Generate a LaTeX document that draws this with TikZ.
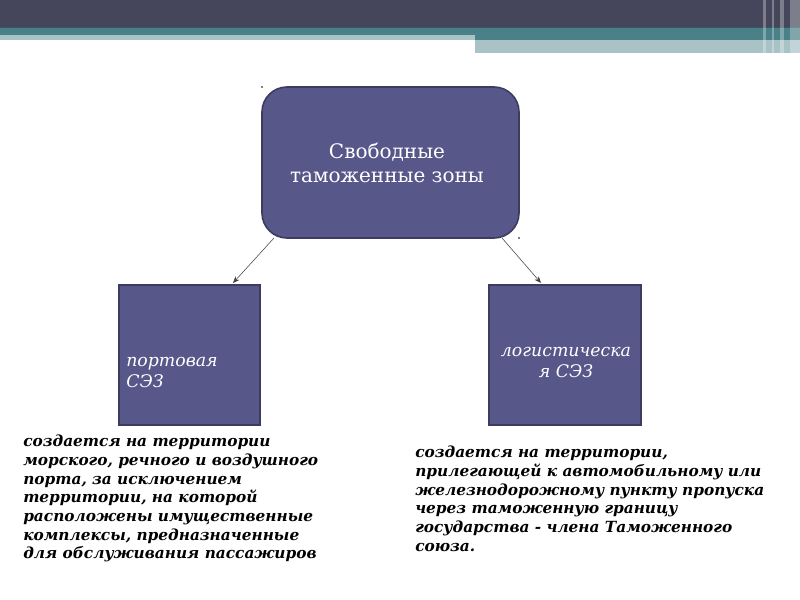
\documentclass[tikz,border=0pt]{standalone}
\usepackage{fontspec}
\setmainfont{DejaVu Serif}
\usetikzlibrary{positioning,arrows.meta}
\definecolor{bardark}{HTML}{45455B}
\definecolor{barteal}{HTML}{4A8088}
\definecolor{barlight}{HTML}{A8C2C6}
\definecolor{boxfill}{HTML}{58578A}
\definecolor{boxline}{HTML}{3C3C5E}
\tikzset{
  zone/.style={draw=boxline, line width=1.2pt, fill=boxfill, text=white},
  zonetext/.style={text=white, inner sep=0pt,
    font=\fontsize{13}{15.75}\selectfont\itshape},
  note/.style={anchor=north west, align=left, inner sep=0pt,
    font=\fontsize{11.5}{14}\selectfont\bfseries\itshape},
  link/.style={->, black!75, thin}
}
\begin{document}
\begin{tikzpicture}[x=0.75pt,y=-0.75pt,>={Stealth[length=5pt,width=4pt]}]
\useasboundingbox (0,0) rectangle (800,600);
% header
\fill[bardark] (0,0) rectangle (800,27);
\fill[barteal] (0,27) rectangle (800,35);
\draw[barteal!70!black] (0,27) -- (800,27);
\fill[barlight] (0,35) rectangle (475,40);
\fill[barteal] (475,35) rectangle (800,40);
\fill[barlight] (475,40) rectangle (800,53);
\foreach \x/\w in {763/3,772/2,780/4,790/10}
{
    \fill[white,opacity=.3] (\x,0) rectangle (\x+\w,53);
}

\node[zone, rounded corners=18.75pt, minimum width=192.75pt, minimum height=113.25pt] (main) at (390.5,162.5) {};
\node[text=white, align=center, inner sep=0pt, font=\fontsize{15}{18}\selectfont] (maintext) at (387,163)
  {Свободные\\таможенные зоны};

\node[zone, minimum width=105.75pt, minimum height=105pt] (port) at (189.5,355) {};
\node[zonetext, anchor=west, align=left] (porttext) at (126,372)
  {портовая\\СЭЗ};

\node[zone, minimum width=114pt, minimum height=105pt] (logist) at (565,355) {};
\node[zonetext, align=center] (logtext) at (566,362)
  {логистическа\\я СЭЗ};

\coordinate (mainl) at (274,238);
\coordinate (mainr) at (502,238);
\coordinate (portin) at (233,283);
\coordinate (login) at (541,283);
\draw[link] (mainl) -- (portin);
\draw[link] (mainr) -- (login);

\fill (262,87) circle (0.6pt);
\fill (519,238) circle (0.6pt);

\node[note] (portnote) at (23,435)
  {создается на территории\\морского, речного и воздушного\\порта, за исключением\\территории, на которой\\расположены имущественные\\комплексы, предназначенные\\для обслуживания пассажиров};
\node[note] (lognote) at (415,446)
  {создается на территории,\\прилегающей к автомобильному или\\железнодорожному пункту пропуска\\через таможенную границу\\государства - члена Таможенного\\союза.};
\end{tikzpicture}
\end{document}
